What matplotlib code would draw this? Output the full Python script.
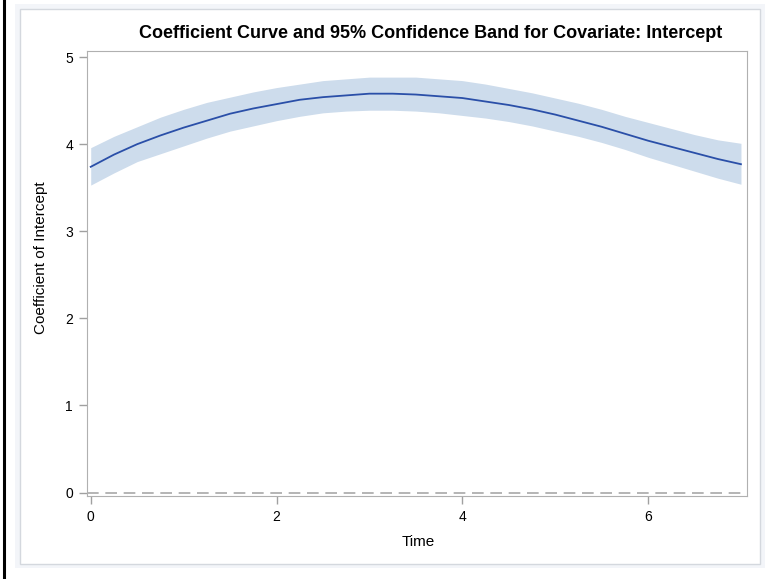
import matplotlib.pyplot as plt
from matplotlib.patches import Rectangle
from matplotlib.lines import Line2D

plt.rcParams['font.family'] = ['Liberation Sans', 'DejaVu Sans']

# time grid and read-off values
time = [0, 0.25, 0.5, 0.75, 1, 1.25, 1.5, 1.75, 2, 2.25, 2.5, 2.75, 3, 3.25, 3.5,
        3.75, 4, 4.25, 4.5, 4.75, 5, 5.25, 5.5, 5.75, 6, 6.25, 6.5, 6.75, 7]
coef = [3.74, 3.88, 4.00, 4.10, 4.19, 4.27, 4.35, 4.41, 4.46, 4.51, 4.54, 4.56, 4.58, 4.58, 4.57,
        4.55, 4.53, 4.49, 4.45, 4.40, 4.34, 4.27, 4.20, 4.12, 4.04, 3.97, 3.90, 3.83, 3.77]
upper = [3.96, 4.09, 4.20, 4.31, 4.40, 4.48, 4.54, 4.60, 4.65, 4.69, 4.73, 4.75, 4.77, 4.77, 4.77,
         4.75, 4.73, 4.69, 4.64, 4.59, 4.53, 4.47, 4.40, 4.32, 4.25, 4.18, 4.11, 4.05, 4.01]
lower = [3.53, 3.67, 3.80, 3.89, 3.98, 4.07, 4.15, 4.21, 4.27, 4.32, 4.36, 4.38, 4.39, 4.39, 4.38,
         4.36, 4.33, 4.30, 4.26, 4.21, 4.15, 4.09, 4.02, 3.94, 3.85, 3.77, 3.69, 3.61, 3.54]
xticks = [0, 2, 4, 6]
yticks = [0, 1, 2, 3, 4, 5]

W, H = 767, 579
fig = plt.figure(figsize=(W / 100, H / 100), dpi=100)

# outer frame stuff
fig.patches.append(Rectangle((15 / W, 1 - 568 / H), 750 / W, 564 / H,
                             transform=fig.transFigure, facecolor='#f3f5f9',
                             edgecolor='none', zorder=-2))
fig.patches.append(Rectangle((20 / W, 1 - 564 / H), 740 / W, 555 / H,
                             transform=fig.transFigure, facecolor='white',
                             edgecolor='#d4d8de', linewidth=1, zorder=-1))
fig.lines.append(Line2D([4 / W, 4 / W], [0, 1], transform=fig.transFigure,
                        color='black', linewidth=2.2))

ax = fig.add_axes([87 / W, 1 - 496 / H, 660 / W, 445 / H])
ax.set_zorder(2)
ax.patch.set_alpha(0)
ax.fill_between(time, lower, upper, color='#cddcec', linewidth=0)
ax.plot(time, coef, color='#2a4fa8', linewidth=1.3)
ax.axhline(0, color='#a8a8a8', linestyle=(0, (7, 4)), linewidth=1.2)

ax.set_xlim(-0.04, 7.065)
ax.set_ylim(-0.04, 5.07)
ax.set_xticks(xticks)
ax.set_yticks(yticks)
ax.tick_params(colors='#a0a0a0', labelcolor='black', labelsize=10, length=6, width=1, pad=4)
for s in ax.spines.values():
    s.set_color('#b0b0b0')

fig.text(431 / W, 1 - 33 / H, 'Coefficient Curve and 95% Confidence Band for Covariate: Intercept',
         ha='center', va='center', fontsize=13, fontweight='bold')
fig.text(41 / W, 1 - 258 / H, 'Coefficient of Intercept', rotation=90,
         ha='center', va='center', fontsize=11)
fig.text(418 / W, 1 - 542 / H, 'Time', ha='center', va='center', fontsize=11)

fig.savefig('out.png', dpi=100)
